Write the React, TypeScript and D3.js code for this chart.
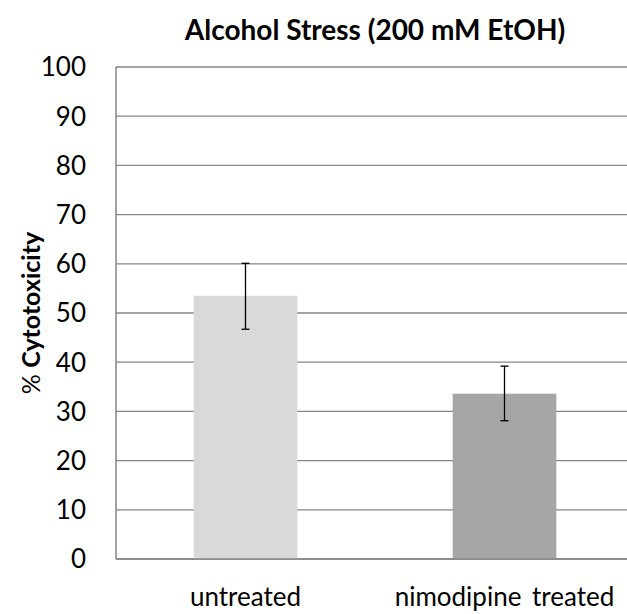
import React from "react";
import * as d3 from "d3";

const categories = ["untreated", "nimodipine treated"];
const values = [53.5, 33.6];
const errLow = [46.7, 28.1];
const errHigh = [60.1, 39.2];
const yTicks = [0, 10, 20, 30, 40, 50, 60, 70, 80, 90, 100];
const colors = ["#d9d9d9", "#a6a6a6"];

export default function App() {
  const W = 627, H = 614;
  const left = 116, right = 634, top = 67, bottom = 559;
  const x = d3.scaleBand().domain(categories).range([left, right]).paddingInner(0.6).paddingOuter(0.3);
  const y = d3.scaleLinear().domain([0, 100]).range([bottom, top]);
  const font = "Lato, 'Open Sans', sans-serif";
  return (
    <svg width={W} height={H} style={{ position: "absolute", left: 0, top: 0 }}>
      <rect width={W} height={H} fill="#fff" />
      {yTicks.map((t) => (
        <g key={t}>
          <line x1={left} x2={right} y1={y(t)} y2={y(t)} stroke="#868686" strokeWidth={1.3} />
          <text x={86} y={y(t)} dy="0.36em" textAnchor="end" fontFamily={font} fontSize={26} fill="#000">{t}</text>
        </g>
      ))}
      <line x1={left} x2={left} y1={top} y2={bottom} stroke="#868686" strokeWidth={1.5} />
      {categories.map((c, i) => {
        const cx = x(c)! + x.bandwidth() / 2;
        return (
          <g key={c}>
            <rect x={x(c)} y={y(values[i])} width={x.bandwidth()} height={bottom - y(values[i])} fill={colors[i]} />
            <line x1={cx} x2={cx} y1={y(errHigh[i])} y2={y(errLow[i])} stroke="#000" strokeWidth={1.3} />
            <line x1={cx - 4} x2={cx + 4} y1={y(errHigh[i])} y2={y(errHigh[i])} stroke="#000" strokeWidth={1.3} />
            <line x1={cx - 4} x2={cx + 4} y1={y(errLow[i])} y2={y(errLow[i])} stroke="#000" strokeWidth={1.3} />
            <text x={cx} y={606} textAnchor="middle" fontFamily={font} fontSize={26} wordSpacing={4} fill="#000">{c}</text>
          </g>
        );
      })}
      <line x1={left} x2={right} y1={bottom} y2={bottom} stroke="#868686" strokeWidth={1.5} />
      <text x={(left + right) / 2} y={40} textAnchor="middle" fontFamily={font} fontSize={28} fontWeight="bold" fill="#000">Alcohol Stress (200 mM EtOH)</text>
      <text transform={`translate(40, ${(top + bottom) / 2}) rotate(-90)`} textAnchor="middle" fontFamily={font} fontSize={25} fill="#000">
        % <tspan fontWeight="bold">Cytotoxicity</tspan>
      </text>
    </svg>
  );
}
